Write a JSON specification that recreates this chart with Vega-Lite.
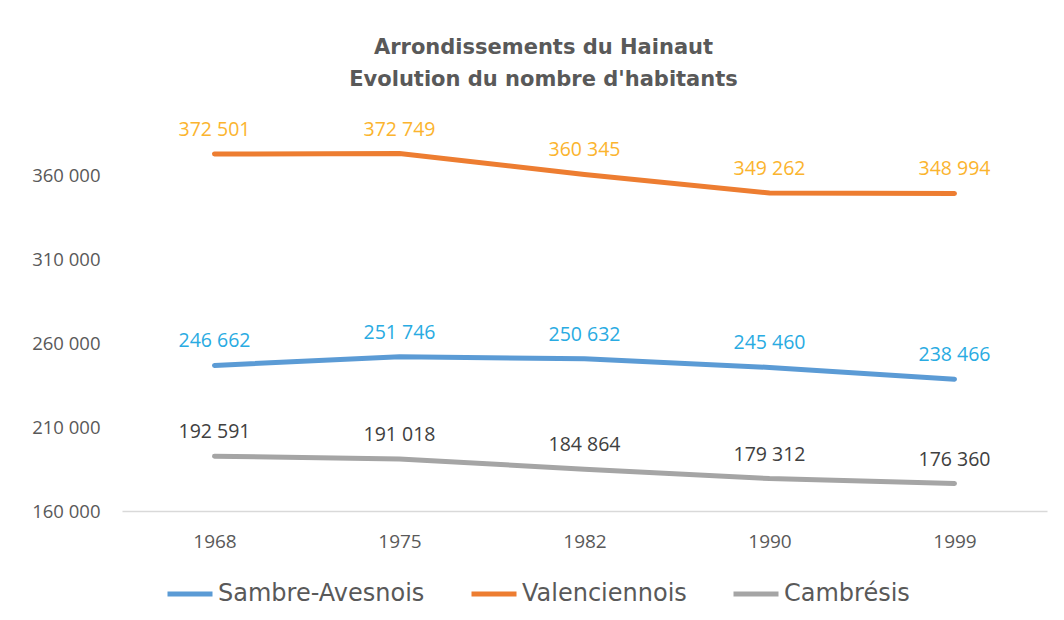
{
  "$schema": "https://vega.github.io/schema/vega-lite/v6.json",
  "width": 925,
  "height": 420,
  "autosize": {"type": "none"},
  "padding": {"left": 122, "top": 91, "right": 17, "bottom": 109},
  "background": "white",
  "config": {
    "locale": {"number": {"decimal": ",", "thousands": " ", "grouping": [3], "currency": ["", " €"]}},
    "view": {"stroke": null},
    "font": "Open Sans"
  },
  "title": {
    "text": ["Arrondissements du Hainaut", "Evolution du nombre d'habitants"],
    "font": "DejaVu Sans",
    "fontSize": 21,
    "fontWeight": "bold",
    "color": "#595959",
    "lineHeight": 32,
    "baseline": "bottom",
    "offset": -20,
    "dx": -41
  },
  "data": {
    "values": [
      {"annee": "1968", "serie": "Sambre-Avesnois", "habitants": 246662},
      {"annee": "1975", "serie": "Sambre-Avesnois", "habitants": 251746},
      {"annee": "1982", "serie": "Sambre-Avesnois", "habitants": 250632},
      {"annee": "1990", "serie": "Sambre-Avesnois", "habitants": 245460},
      {"annee": "1999", "serie": "Sambre-Avesnois", "habitants": 238466},
      {"annee": "1968", "serie": "Valenciennois", "habitants": 372501},
      {"annee": "1975", "serie": "Valenciennois", "habitants": 372749},
      {"annee": "1982", "serie": "Valenciennois", "habitants": 360345},
      {"annee": "1990", "serie": "Valenciennois", "habitants": 349262},
      {"annee": "1999", "serie": "Valenciennois", "habitants": 348994},
      {"annee": "1968", "serie": "Cambrésis", "habitants": 192591},
      {"annee": "1975", "serie": "Cambrésis", "habitants": 191018},
      {"annee": "1982", "serie": "Cambrésis", "habitants": 184864},
      {"annee": "1990", "serie": "Cambrésis", "habitants": 179312},
      {"annee": "1999", "serie": "Cambrésis", "habitants": 176360}
    ]
  },
  "encoding": {
    "x": {
      "field": "annee",
      "type": "ordinal",
      "scale": {"type": "point", "padding": 0.5},
      "axis": {
        "title": null,
        "labelAngle": 0,
        "ticks": false,
        "domainColor": "#d9d9d9",
        "domainWidth": 1.5,
        "labelPadding": 21,
        "labelFontSize": 19,
        "labelColor": "#595959",
        "labelFont": "Open Sans"
      }
    },
    "y": {
      "field": "habitants",
      "type": "quantitative",
      "scale": {"domain": [160000, 410000], "nice": false, "zero": false},
      "axis": {
        "title": null,
        "values": [160000, 210000, 260000, 310000, 360000],
        "format": ",d",
        "domain": false,
        "ticks": false,
        "grid": false,
        "labelPadding": 22,
        "labelFontSize": 18.5,
        "labelColor": "#595959",
        "labelFont": "Open Sans"
      }
    }
  },
  "layer": [
    {
      "mark": {"type": "line", "strokeWidth": 5, "strokeCap": "round"},
      "encoding": {
        "color": {
          "field": "serie",
          "type": "nominal",
          "sort": ["Sambre-Avesnois", "Valenciennois", "Cambrésis"],
          "scale": {"domain": ["Sambre-Avesnois", "Valenciennois", "Cambrésis"], "range": ["#5B9BD5", "#ED7D31", "#A5A5A5"]},
          "legend": {
            "title": null,
            "orient": "none",
            "direction": "horizontal",
            "legendX": 43,
            "legendY": 478,
            "symbolType": "stroke",
            "symbolSize": 2025,
            "symbolStrokeWidth": 5,
            "labelFont": "DejaVu Sans",
            "labelFontSize": 24,
            "labelLimit": 400,
            "labelColor": "#595959",
            "labelOffset": 3,
            "columnPadding": 36,
            "padding": 0
          }
        }
      }
    },
    {
      "mark": {"type": "text", "dy": -24, "fontSize": 19.5, "font": "Open Sans"},
      "encoding": {
        "text": {"field": "habitants", "type": "quantitative", "format": ",d"},
        "color": {
          "field": "serie",
          "type": "nominal",
          "scale": {"domain": ["Sambre-Avesnois", "Valenciennois", "Cambrésis"], "range": ["#29ABE2", "#FBB42E", "#404040"]},
          "legend": null
        }
      }
    }
  ],
  "resolve": {"scale": {"color": "independent"}}
}
